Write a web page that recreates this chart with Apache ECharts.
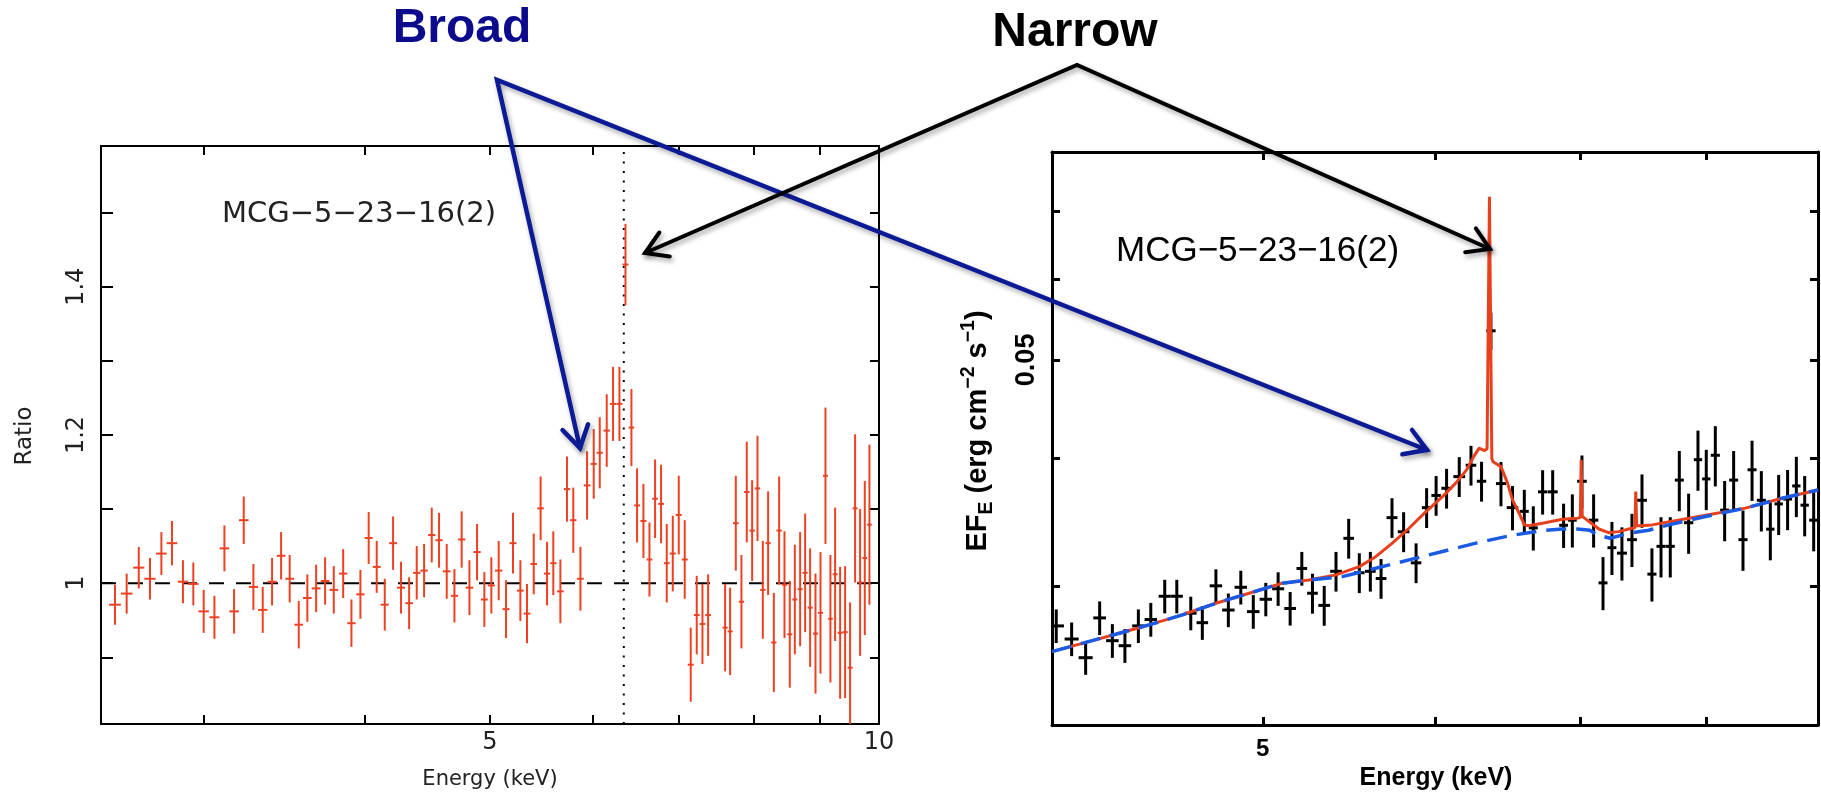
<!DOCTYPE html>
<html>
<head>
<meta charset="utf-8">
<script src="https://cdn.jsdelivr.net/npm/echarts@6.0.0/dist/echarts.min.js"></script>
<style>
html,body{margin:0;padding:0;background:#ffffff;}
#chart{width:1821px;height:798px;}
</style>
</head>
<body>
<div id="chart"></div>
<script>
// ---------------- DATA ----------------
// Left panel: data / model ratio vs energy (keV)
const leftEnergy = [2.563,2.617,2.674,2.728,2.784,2.837,2.893,2.947,3.002,3.060,3.115,3.169,3.224,3.280,3.335,3.391,3.446,3.499,3.556,3.611,3.668,3.727,3.785,3.849,3.906,3.969,
4.028,4.086,4.145,4.207,4.267,4.329,4.388,4.446,4.507,4.566,4.629,4.693,4.754,4.820,4.886,4.950,5.012,5.078,5.145,5.209,5.278,5.341,5.405,5.472,5.535,5.597,5.668,5.735,5.800,5.874,5.944,6.015,6.080,6.156,6.226,6.297,
6.365,
6.433,6.498,6.572,6.643,6.710,6.782,6.851,6.925,6.999,7.074,7.150,7.227,7.301,7.375,7.602,7.670,7.748,7.826,7.901,7.977,8.053,8.130,8.207,8.291,8.370,8.450,8.530,8.607,8.689,8.767,8.845,8.930,9.010,9.090,9.171,9.248,9.331,9.414,9.498,9.583,9.669,9.750,9.831];
const leftRatio = [0.971,0.986,1.021,1.006,1.040,1.054,1.002,0.999,0.962,0.954,1.047,0.962,1.085,0.995,0.964,1.002,1.037,1.006,0.944,0.980,0.993,1.003,0.991,1.013,0.946,0.985,
1.061,1.022,0.971,1.054,0.994,0.973,1.014,1.017,1.065,1.058,1.016,0.983,1.059,0.994,1.042,0.978,0.997,1.017,0.965,1.054,0.990,0.959,1.026,1.101,1.013,1.027,0.989,1.127,1.085,1.006,1.132,1.161,1.176,1.206,1.242,1.242,
1.430,
1.210,1.105,1.084,1.032,1.114,1.107,1.027,1.040,1.092,1.032,0.890,0.957,0.945,0.957,0.940,0.935,1.081,0.975,1.123,1.071,1.128,0.991,1.054,0.920,1.071,0.998,0.931,0.978,0.992,1.014,0.967,0.932,0.960,1.145,0.952,1.012,0.933,0.934,0.886,1.101,1.001,1.034,1.079];
const leftErr = [0.027,0.027,0.028,0.028,0.029,0.030,0.029,0.029,0.029,0.029,0.031,0.030,0.032,0.031,0.031,0.032,0.032,0.032,0.032,0.032,0.032,0.032,0.032,0.033,0.032,0.033,
0.035,0.035,0.035,0.036,0.035,0.035,0.036,0.036,0.037,0.037,0.037,0.036,0.038,0.037,0.038,0.037,0.038,0.040,0.039,0.041,0.041,0.040,0.041,0.043,0.043,0.043,0.043,0.044,0.044,0.043,0.046,0.047,0.048,0.049,0.050,0.050,
0.055,
0.052,0.050,0.050,0.050,0.053,0.053,0.053,0.051,0.053,0.053,0.050,0.053,0.054,0.055,0.059,0.059,0.064,0.063,0.068,0.068,0.071,0.066,0.070,0.067,0.073,0.072,0.072,0.074,0.077,0.080,0.080,0.081,0.082,0.092,0.086,0.090,0.089,0.089,0.088,0.100,0.099,0.104,0.108];
const feLineEnergy = 6.346;
const unityRatio = 1;

// Right panel: unfolded spectrum EF_E vs energy (keV)
const rightEnergy = [4.018,4.084,4.145,4.207,4.264,4.321,4.383,4.441,4.507,4.565,4.633,4.690,4.758,4.821,4.885,4.950,5.016,5.082,5.147,5.211,
5.270,5.336,5.403,5.476,5.538,5.603,5.667,5.733,5.804,5.881,5.947,6.007,6.074,6.156,6.233,6.303,6.366,6.434,6.513,6.595,6.658,6.724,6.796,6.875,6.939,
7.010,7.097,7.168,7.236,7.313,7.391,7.470,7.549,7.622,7.697,7.771,7.848,7.926,7.996,8.073,8.153,8.231,8.313,8.393,8.476,8.557,8.633,8.715,8.796,8.874,8.959];
const rightFlux = [0.0274,0.0266,0.0255,0.0279,0.0265,0.0262,0.0274,0.0278,0.0293,0.0293,0.0282,0.0276,0.0300,0.0284,0.0299,0.0283,0.0291,0.0298,0.0285,0.0312,
0.0295,0.0287,0.0310,0.0334,0.0309,0.0310,0.0305,0.0350,0.0339,0.0316,0.0358,0.0368,0.0374,0.0384,0.0394,0.0380,0.0534,0.0378,0.0358,0.0355,0.0342,0.0371,0.0371,0.0344,0.0348,
0.0380,0.0348,0.0302,0.0327,0.0323,0.0333,0.0364,0.0308,0.0328,0.0328,0.0381,0.0346,0.0399,0.0382,0.0403,0.0356,0.0381,0.0333,0.0390,0.0364,0.0341,0.0361,0.0365,0.0376,0.0360,0.0348];
const rightFluxErr = [0.00104,0.00101,0.00097,0.00106,0.00101,0.00100,0.00104,0.00106,0.00111,0.00111,0.00107,0.00105,0.00114,0.00108,0.00114,0.00108,0.00110,0.00113,0.00108,0.00119,
0.00133,0.00129,0.00139,0.00150,0.00139,0.00139,0.00137,0.00157,0.00153,0.00142,0.00161,0.00165,0.00168,0.00173,0.00177,0.00171,0.00224,0.00189,0.00179,0.00177,0.00171,0.00186,0.00186,0.00172,0.00209,
0.00228,0.00209,0.00181,0.00196,0.00194,0.00200,0.00219,0.00185,0.00223,0.00223,0.00259,0.00235,0.00271,0.00260,0.00274,0.00242,0.00259,0.00227,0.00265,0.00248,0.00232,0.00245,0.00248,0.00256,0.00245,0.00237];

// Continuum model (blue dashed)
const continuumEnergy = [4.0,4.13,4.279,4.432,4.592,4.758,4.928,5.105,5.25,5.44,5.635,5.837,6.048,6.266,6.49,6.724,6.866,6.974,7.07,7.12,7.222,7.371,7.523,7.684,7.99,8.334,8.665,9.0];
const continuumFlux = [0.02585,0.02634,0.02689,0.02746,0.02809,0.02884,0.0295,0.03018,0.0304,0.03063,0.03121,0.03181,0.03242,0.03304,0.03359,0.034,0.03411,0.03411,0.03402,0.03367,0.03341,0.03379,0.03402,0.03443,0.03509,0.03576,0.03657,0.03726];
// Full model (red solid)
const modelEnergy = [4.0,4.13,4.279,4.432,4.592,4.758,4.928,5.105,5.25,5.403,5.538,5.635,5.735,5.837,5.943,6.048,6.133,6.204,6.251,6.287,6.323,6.340,6.356,6.372,6.380,6.434,6.479,6.513,6.559,6.595,6.627,6.724,6.866,6.974,6.998,7.004,7.012,7.02,7.08,7.137,7.21,7.287,7.391,7.414,7.421,7.428,7.45,7.549,7.932,8.334,8.665,9.0];
const modelFlux = [0.02585,0.02634,0.02689,0.02746,0.02809,0.02884,0.0295,0.03018,0.0304,0.03075,0.03133,0.03204,0.03304,0.03417,0.03548,0.0367,0.03784,0.03899,0.04018,0.04095,0.04072,0.0409,0.0723,0.0400,0.03972,0.03928,0.03784,0.03643,0.03535,0.03443,0.03436,0.03456,0.03487,0.03496,0.0350,0.03988,0.0351,0.03514,0.03456,0.03411,0.03383,0.03391,0.03417,0.0342,0.03712,0.03436,0.03436,0.03443,0.03509,0.03576,0.03657,0.03726];

// Axes
const leftXRange = [2.5, 10];
const leftYRange = [0.81, 1.59];
const leftXTicks = [3,4,5,6,7,8,9];
const leftXLabels = [5,10];
const leftYTicks = [0.9,1.0,1.1,1.2,1.3,1.4,1.5];
const leftYLabels = [1,1.2,1.4];
const rightXRange = [4, 9];
const rightYRange = [0.0219, 0.08];
const rightXTicks = [5,6,7,8];
const rightXLabels = [5];
const rightYTicks = [0.03,0.04,0.05,0.06,0.07];
const rightYLabels = [0.05];

// ---------------- BUILD ----------------
const L = Math.log10;
function binEdges(logs, i) {
  const dPrev = i > 0 ? logs[i] - logs[i-1] : logs[i+1] - logs[i];
  const dNext = i < logs.length - 1 ? logs[i+1] - logs[i] : dPrev;
  const h = Math.min(dPrev, dNext) / 2;
  return [logs[i] - h, logs[i] + h];
}
const leftLogE = leftEnergy.map(L);
const leftData = leftLogE.map((x, i) => {
  const e = binEdges(leftLogE, i);
  return [x, leftRatio[i], leftRatio[i] - leftErr[i], leftRatio[i] + leftErr[i], e[0], e[1]];
});
const rightLogE = rightEnergy.map(L);
const rightData = rightLogE.map((x, i) => {
  const e = binEdges(rightLogE, i);
  return [x, L(rightFlux[i]), L(rightFlux[i] - rightFluxErr[i]), L(rightFlux[i] + rightFluxErr[i]), e[0], e[1]];
});

function crossRenderer(color, lw) {
  return function (params, api) {
    const x = api.value(0), y = api.value(1), ylo = api.value(2), yhi = api.value(3), xlo = api.value(4), xhi = api.value(5);
    const a = api.coord([x, yhi]), b = api.coord([x, ylo]);
    const c = api.coord([xlo, y]), d = api.coord([xhi, y]);
    return {
      type: 'group',
      children: [
        {type: 'line', shape: {x1: a[0], y1: a[1], x2: b[0], y2: b[1]}, style: {stroke: color, lineWidth: lw}},
        {type: 'line', shape: {x1: c[0], y1: c[1], x2: d[0], y2: d[1]}, style: {stroke: color, lineWidth: lw}}
      ]
    };
  };
}

const leftFont = '"DejaVu Sans", sans-serif';
const rightFont = '"Liberation Sans", Arial, sans-serif';
const logFmt = v => String(Math.round(Math.pow(10, v)));

function xAx(grid, pos, range, ticks, labels, opt) {
  return {
    type: 'value', gridIndex: grid, position: pos,
    min: L(range[0]), max: L(range[1]),
    axisLine: {show: true, onZero: false, lineStyle: {color: '#000', width: opt.lw}},
    axisTick: {show: true, inside: true, length: opt.tickLen, customValues: ticks.map(L), lineStyle: {color: '#000', width: opt.lw}},
    axisLabel: labels ? {show: true, customValues: labels.map(L), formatter: logFmt, showMaxLabel: true, showMinLabel: true,
      fontSize: opt.fs, fontFamily: opt.font, fontWeight: opt.fw, color: opt.color, margin: opt.margin} : {show: false},
    splitLine: {show: false}
  };
}
function yAxLinear(grid, pos, range, ticks, labels, opt) {
  return {
    type: 'value', gridIndex: grid, position: pos,
    min: range[0], max: range[1],
    axisLine: {show: true, onZero: false, lineStyle: {color: '#000', width: opt.lw}},
    axisTick: {show: true, inside: true, length: opt.tickLen, customValues: ticks, lineStyle: {color: '#000', width: opt.lw}},
    axisLabel: labels ? {show: true, customValues: labels, formatter: v => String(v), rotate: 90,
      fontSize: opt.fs, fontFamily: opt.font, color: opt.color, margin: opt.margin} : {show: false},
    splitLine: {show: false}
  };
}
function yAxLog(grid, pos, range, ticks, labels, opt) {
  return {
    type: 'value', gridIndex: grid, position: pos,
    min: L(range[0]), max: L(range[1]),
    axisLine: {show: true, onZero: false, lineStyle: {color: '#000', width: opt.lw}},
    axisTick: {show: true, inside: true, length: opt.tickLen, customValues: ticks.map(L), lineStyle: {color: '#000', width: opt.lw}},
    axisLabel: labels ? {show: true, customValues: labels.map(L), formatter: v => String(parseFloat(Math.pow(10, v).toPrecision(3))), rotate: 90,
      fontSize: opt.fs, fontFamily: opt.font, fontWeight: opt.fw, color: opt.color, margin: opt.margin} : {show: false},
    splitLine: {show: false}
  };
}

const lOpt = {lw: 2, tickLen: 9, fs: 24, font: leftFont, fw: 'normal', color: '#222', margin: 7};
const rOpt = {lw: 3, tickLen: 8, fs: 24, font: rightFont, fw: 'bold', color: '#000', margin: 12};

// annotation arrows (pixel annotations)
const blueApex = [497, 80], blueTipL = [580, 448], blueTipR = [1427, 450];
const blackApex = [1077, 65], blackTipL = [645, 253], blackTipR = [1490, 249];
function chevron(tip, from, len, ang) {
  const dx = from[0] - tip[0], dy = from[1] - tip[1];
  const d = Math.hypot(dx, dy), ux = dx / d, uy = dy / d;
  const rot = a => [tip[0] + len * (ux * Math.cos(a) - uy * Math.sin(a)), tip[1] + len * (ux * Math.sin(a) + uy * Math.cos(a))];
  return [rot(ang), tip, rot(-ang)];
}
const shadow = {shadowBlur: 5, shadowColor: 'rgba(0,0,0,0.35)', shadowOffsetX: 2, shadowOffsetY: 3};
const navy = '#0c1a96';
function arrowEls(apex, tipA, tipB, color, lw) {
  const st = Object.assign({stroke: color, lineWidth: lw, fill: 'none', lineJoin: 'miter', lineCap: 'round'}, shadow);
  return [
    {type: 'polyline', z: 100, shape: {points: [tipA, apex, tipB]}, style: Object.assign({}, st)},
    {type: 'polyline', z: 100, shape: {points: chevron(tipA, apex, 25, 0.55)}, style: Object.assign({}, st)},
    {type: 'polyline', z: 100, shape: {points: chevron(tipB, apex, 25, 0.55)}, style: Object.assign({}, st)}
  ];
}
function txt(x, y, text, font, fill, align, rotation) {
  return {type: 'text', z: 100, x: x, y: y, rotation: rotation || 0,
    style: {text: text, font: font, fill: fill, align: align || 'center', verticalAlign: 'middle',
      textAlign: align || 'center', textVerticalAlign: 'middle'}};
}

const graphics = [].concat(
  arrowEls(blueApex, blueTipL, blueTipR, navy, 4.5),
  arrowEls(blackApex, blackTipL, blackTipR, '#000', 4),
  [
    txt(462, 29, 'Broad', 'bold 48px ' + rightFont, '#0b0b8c'),
    txt(1075, 33, 'Narrow', 'bold 48px ' + rightFont, '#000'),
    txt(222, 214, 'MCG\u22125\u221223\u221216(2)', '29px ' + leftFont, '#222', 'left'),
    txt(1116, 251, 'MCG\u22125\u221223\u221216(2)', '35px ' + rightFont, '#000', 'left'),
    txt(25, 436, 'Ratio', '23px ' + leftFont, '#222', 'center', Math.PI / 2),
    txt(490, 780, 'Energy (keV)', '21px ' + leftFont, '#222'),
    txt(1436, 778, 'Energy (keV)', 'bold 25px ' + rightFont, '#000'),
    {type: 'text', z: 100, x: 978, y: 431, rotation: Math.PI / 2,
      style: {
        text: '{m|EF}{sub|E}{m| (erg cm}{sup|\u22122}{m| s}{sup|\u22121}{m|)}',
        align: 'center', verticalAlign: 'middle', textAlign: 'center', textVerticalAlign: 'middle',
        fill: '#000',
        rich: {
          m: {fontSize: 29, fontWeight: 'bold', fontFamily: rightFont, lineHeight: 38, fill: '#000', color: '#000'},
          sup: {fontSize: 19.5, fontWeight: 'bold', fontFamily: rightFont, lineHeight: 19, verticalAlign: 'top', fill: '#000', color: '#000'},
          sub: {fontSize: 19.5, fontWeight: 'bold', fontFamily: rightFont, lineHeight: 19, verticalAlign: 'bottom', fill: '#000', color: '#000'}
        }
      }}
  ]
);

const option = {
  animation: false,
  backgroundColor: '#ffffff',
  grid: [
    {left: 101, top: 146, width: 778, height: 578, outerBoundsMode: 'none', containLabel: false},
    {left: 1052, top: 152, width: 766, height: 573, outerBoundsMode: 'none', containLabel: false}
  ],
  xAxis: [
    xAx(0, 'bottom', leftXRange, leftXTicks, leftXLabels, lOpt),
    xAx(0, 'top', leftXRange, leftXTicks, null, lOpt),
    xAx(1, 'bottom', rightXRange, rightXTicks, rightXLabels, rOpt),
    xAx(1, 'top', rightXRange, rightXTicks, null, rOpt)
  ],
  yAxis: [
    yAxLinear(0, 'left', leftYRange, leftYTicks, leftYLabels, Object.assign({}, lOpt, {tickLen: 12, margin: 12})),
    yAxLinear(0, 'right', leftYRange, leftYTicks, null, lOpt),
    yAxLog(1, 'left', rightYRange, rightYTicks, rightYLabels, Object.assign({}, rOpt, {fs: 27, margin: 12})),
    yAxLog(1, 'right', rightYRange, rightYTicks, null, rOpt)
  ],
  series: [
    {type: 'line', xAxisIndex: 0, yAxisIndex: 0, silent: true, symbol: 'none',
      data: [[L(leftXRange[0]), unityRatio], [L(leftXRange[1]), unityRatio]],
      lineStyle: {color: '#000', width: 2, type: [15, 12]}, z: 2},
    {type: 'line', xAxisIndex: 0, yAxisIndex: 0, silent: true, symbol: 'none',
      data: [[L(feLineEnergy), leftYRange[0]], [L(feLineEnergy), leftYRange[1]]],
      lineStyle: {color: '#000', width: 2, type: [2, 7.5]}, z: 2},
    {type: 'custom', xAxisIndex: 0, yAxisIndex: 0, clip: true, silent: true, z: 3,
      renderItem: crossRenderer('#ec4122', 2), encode: {x: 0, y: 1}, data: leftData},
    {type: 'custom', xAxisIndex: 2, yAxisIndex: 2, clip: true, silent: true, z: 3,
      renderItem: crossRenderer('#000', 3), encode: {x: 0, y: 1}, data: rightData},
    {type: 'line', xAxisIndex: 2, yAxisIndex: 2, silent: true, symbol: 'none', z: 4,
      data: modelEnergy.map((e, i) => [L(e), L(modelFlux[i])]),
      lineStyle: {color: '#e8401c', width: 3}},
    {type: 'line', xAxisIndex: 2, yAxisIndex: 2, silent: true, symbol: 'none', z: 5,
      data: continuumEnergy.map((e, i) => [L(e), L(continuumFlux[i])]),
      lineStyle: {color: '#1a5be6', width: 3.5, type: [20, 10]}}
  ],
  graphic: graphics
};

const chart = echarts.init(document.getElementById('chart'), null, {renderer: 'canvas'});
chart.setOption(option);
</script>
</body>
</html>
